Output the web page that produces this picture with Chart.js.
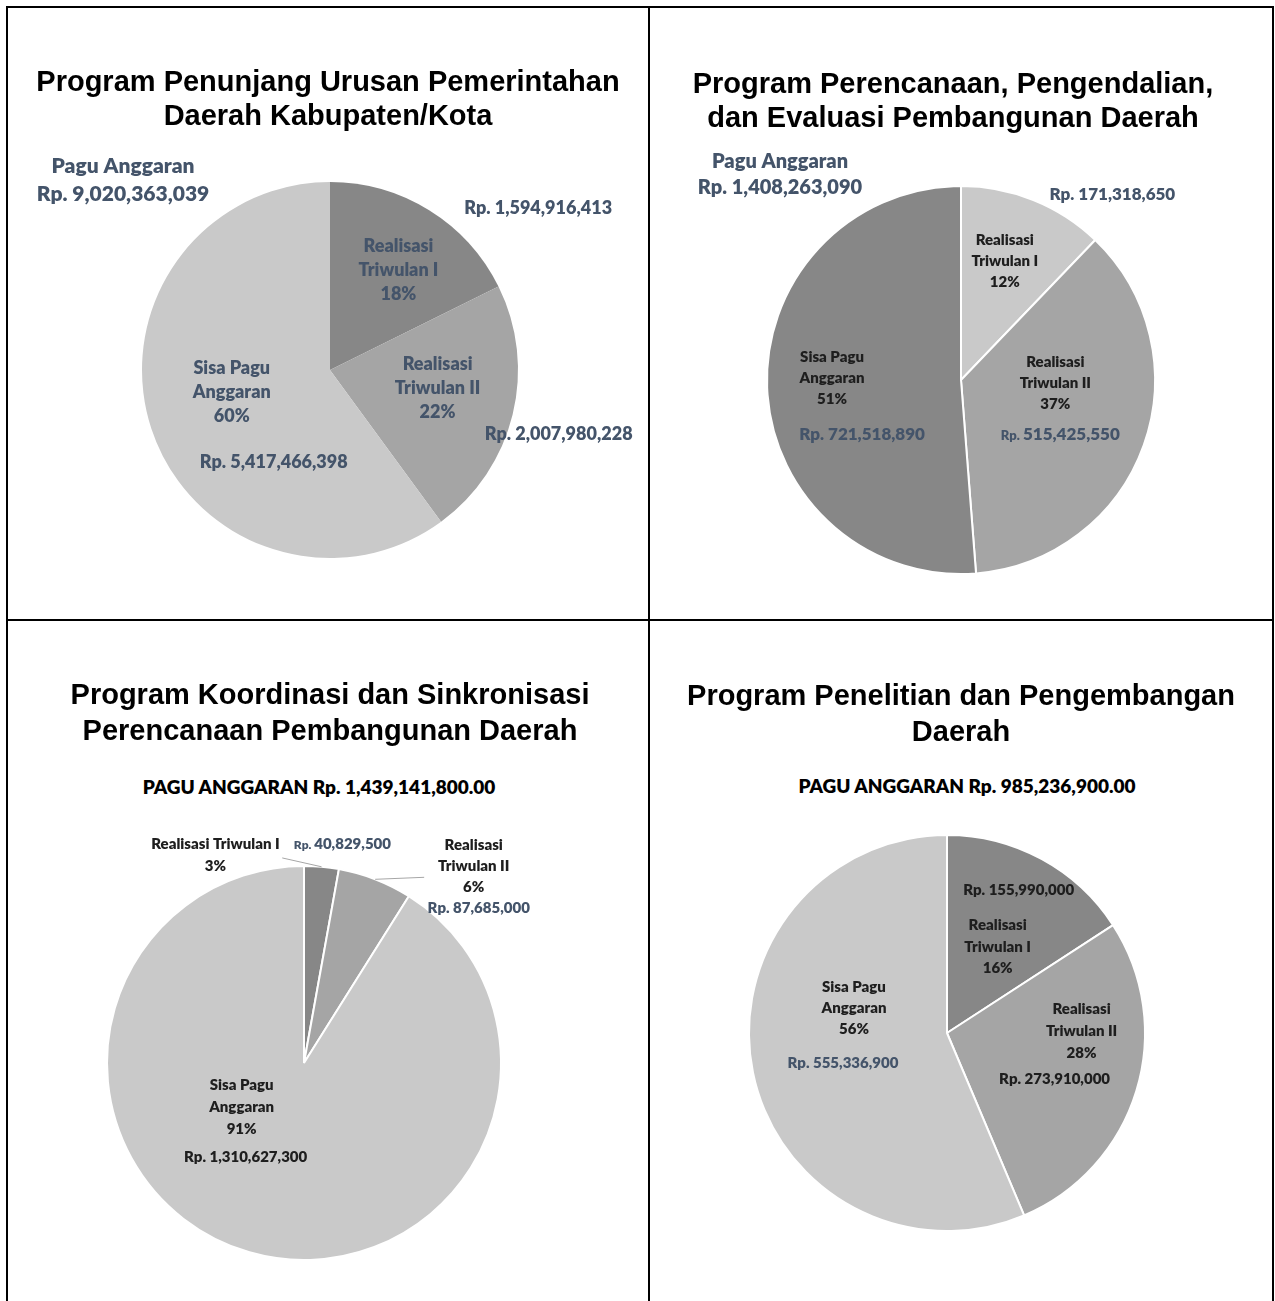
<!DOCTYPE html>
<html lang="id">
<head>
<meta charset="utf-8">
<title>Realisasi Anggaran per Program</title>
<script src="https://cdn.jsdelivr.net/npm/chart.js@4.4.1/dist/chart.umd.min.js"></script>
<style>
  body { margin: 0; background: #fff; width: 1275px; height: 1301px; position: relative; overflow: hidden; }
  .line { position: absolute; background: #000; }
  .pie-canvas { position: absolute; }
  .title { position: absolute; text-align: center; white-space: nowrap; color: #000;
           font: bold 29px/34px "Liberation Sans", Arial, sans-serif; }
  .subtitle { position: absolute; text-align: center; white-space: nowrap; color: #000;
              font: 800 19px/23px Lato, sans-serif; }
</style>
</head>
<body>
<div class="line" style="left:6px;top:6px;width:2px;height:1295px"></div>
<div class="line" style="left:648px;top:6px;width:2px;height:1295px"></div>
<div class="line" style="left:1272px;top:6px;width:2px;height:1295px"></div>
<div class="line" style="left:6px;top:6px;width:1268px;height:2px"></div>
<div class="line" style="left:6px;top:619px;width:1268px;height:2px"></div>

<script>
// ---- data ----
const categories = ["Realisasi Triwulan I", "Realisasi Triwulan II", "Sisa Pagu Anggaran"];
const categoryLines = [["Realisasi", "Triwulan I"], ["Realisasi", "Triwulan II"], ["Sisa Pagu", "Anggaran"]];

const penunjangValues = [1594916413, 2007980228, 5417466398];
const perencanaanValues = [171318650, 515425550, 721518890];
const koordinasiValues = [40829500, 87685000, 1310627300];
const penelitianValues = [155990000, 273910000, 555336900];

const penunjangTitle = ["Program Penunjang Urusan Pemerintahan", "Daerah Kabupaten/Kota"];
const perencanaanTitle = ["Program Perencanaan, Pengendalian,", "dan Evaluasi Pembangunan Daerah"];
const koordinasiTitle = ["Program Koordinasi dan Sinkronisasi", "Perencanaan Pembangunan Daerah"];
const penelitianTitle = ["Program Penelitian dan Pengembangan", "Daerah"];

// ---- styles ----
const DARK = "#878787";
const MID = "#a5a5a5";
const LIGHT = "#c9c9c9";
const SLATE = "#44546a";
const INK = "#1e1e1e";
const LABEL_FONT = "Lato, sans-serif";
const LABEL_WEIGHT = 800;

const sum = (arr) => arr.reduce((a, b) => a + b, 0);
const rupiah = (v) => v.toLocaleString("en-US");

// label anchors: slice mid-angle at k * radius, nudged by dx/dy
const panels = [
  {
    values: penunjangValues, title: penunjangTitle,
    box: { left: 8, top: 8, width: 640, height: 611 },
    titleBox: { left: 8, width: 640, top: 64 },
    pie: { cx: 322, cy: 362, r: 188 },
    colors: [DARK, MID, LIGHT], border: 0,
    labels: [
      { kind: "total", dx: -207, dy: -191, size: 21, lh: 28, color: SLATE },
      { kind: "category", slice: 0, k: 0.65, dx: 4, dy: 3, size: 18, lh: 24, color: SLATE },
      { kind: "value", slice: 0, k: 1, dx: 109, dy: -3, size: 18, color: SLATE },
      { kind: "category", slice: 1, k: 0.6, dx: -2, dy: -9, size: 18, lh: 24, color: SLATE },
      { kind: "value", slice: 1, k: 1, dx: 46, dy: 19, size: 18, color: SLATE },
      { kind: "category", slice: 2, k: 0.55, dx: 0, dy: -11, size: 18, lh: 24, color: SLATE },
      { kind: "value", slice: 2, k: 0.55, dx: 42, dy: 59, size: 18, color: SLATE },
    ],
  },
  {
    values: perencanaanValues, title: perencanaanTitle,
    box: { left: 650, top: 8, width: 622, height: 611 },
    titleBox: { left: 650, width: 606, top: 66 },
    pie: { cx: 311, cy: 372, r: 194 },
    colors: [LIGHT, MID, DARK], border: 2,
    labels: [
      { kind: "total", dx: -181, dy: -206, size: 20, lh: 26, color: SLATE },
      { kind: "category", slice: 0, k: 0.66, dx: -4, dy: -1, size: 15, lh: 21, color: INK },
      { kind: "value", slice: 0, k: 1, dx: 79, dy: -6, size: 17, color: SLATE },
      { kind: "category", slice: 1, k: 0.5, dx: 3, dy: -30, size: 15, lh: 21, color: INK },
      { kind: "value", slice: 1, k: 0.5, dx: 8, dy: 21, size: 17, rpSize: 13, color: SLATE },
      { kind: "category", slice: 2, k: 0.66, dx: -1, dy: -7, size: 15, lh: 21, color: INK },
      { kind: "value", slice: 2, k: 0.66, dx: 29, dy: 49, size: 17, color: SLATE },
    ],
  },
  {
    values: koordinasiValues, title: koordinasiTitle, subtitle: true,
    box: { left: 8, top: 621, width: 640, height: 680 },
    titleBox: { left: 8, width: 644, top: 676, lh: 36 },
    subBox: { left: 8, width: 622, top: 775 },
    pie: { cx: 296, cy: 442, r: 197 },
    colors: [DARK, MID, LIGHT], border: 2,
    labels: [
      { kind: "leader", slice: 0, k: 1.04, dx: -40, dy: -1 },
      { kind: "leader", slice: 1, k: 1, dx: 49, dy: -2 },
      { kind: "category", slice: 0, k: 1.05, dx: -107, dy: -2, size: 15, lh: 22, color: INK, oneLine: true },
      { kind: "value", slice: 0, k: 1.05, dx: 20, dy: -13, size: 15, rpSize: 12, color: SLATE },
      { kind: "category", slice: 1, k: 1.05, dx: 95, dy: -5, size: 15, lh: 21, color: INK },
      { kind: "value", slice: 1, k: 1.05, dx: 100, dy: 37, size: 15, color: SLATE },
      { kind: "category", slice: 2, k: 0.3, dx: -46, dy: -13, size: 15, lh: 22, color: INK },
      { kind: "value", slice: 2, k: 0.3, dx: -42, dy: 37, size: 15, color: INK },
    ],
  },
  {
    values: penelitianValues, title: penelitianTitle, subtitle: true,
    box: { left: 650, top: 621, width: 622, height: 680 },
    titleBox: { left: 650, width: 622, top: 677, lh: 36 },
    subBox: { left: 650, width: 634, top: 774 },
    pie: { cx: 297, cy: 412, r: 198 },
    colors: [DARK, MID, LIGHT], border: 2,
    labels: [
      { kind: "value", slice: 0, k: 0.6, dx: 15, dy: -39, size: 15, color: INK },
      { kind: "category", slice: 0, k: 0.6, dx: -6, dy: 18, size: 15, lh: 21.5, color: INK },
      { kind: "category", slice: 1, k: 0.6, dx: 21, dy: -37, size: 15, lh: 22, color: INK },
      { kind: "value", slice: 1, k: 0.6, dx: -6, dy: 11, size: 15, color: INK },
      { kind: "category", slice: 2, k: 0.5, dx: 4, dy: -45, size: 15, lh: 21, color: INK },
      { kind: "value", slice: 2, k: 0.5, dx: -7, dy: 10, size: 15, color: SLATE },
    ],
  },
];

// draws one line made of segments with their own sizes, centred on x
function drawSegments(ctx, segments, x, yMid, color) {
  let width = 0;
  let maxSize = 0;
  segments.forEach((s) => {
    ctx.font = `${LABEL_WEIGHT} ${s.size}px ${LABEL_FONT}`;
    s.w = ctx.measureText(s.text).width;
    width += s.w;
    maxSize = Math.max(maxSize, s.size);
  });
  const baseline = yMid + 0.36 * maxSize;
  let cx = x - width / 2;
  ctx.fillStyle = color;
  ctx.textAlign = "left";
  ctx.textBaseline = "alphabetic";
  segments.forEach((s) => {
    ctx.font = `${LABEL_WEIGHT} ${s.size}px ${LABEL_FONT}`;
    ctx.fillText(s.text, cx, baseline);
    cx += s.w;
  });
}

const sliceLabels = {
  id: "sliceLabels",
  afterDatasetsDraw(chart, args, opts) {
    const ctx = chart.ctx;
    const meta = chart.getDatasetMeta(0);
    const values = chart.data.datasets[0].data;
    const total = sum(values);
    const first = meta.data[0].getProps(["x", "y", "outerRadius"], true);
    const { x: cx, y: cy, outerRadius: r } = first;

    const polar = (slice, k) => {
      const arc = meta.data[slice].getProps(["startAngle", "endAngle"], true);
      const mid = (arc.startAngle + arc.endAngle) / 2;
      return { x: cx + Math.cos(mid) * r * k, y: cy + Math.sin(mid) * r * k };
    };

    ctx.save();
    opts.items.forEach((item) => {
      if (item.kind === "leader") {
        const from = polar(item.slice, 1);
        const to = polar(item.slice, item.k);
        ctx.strokeStyle = "#a6a6a6";
        ctx.lineWidth = 1;
        ctx.beginPath();
        ctx.moveTo(from.x, from.y);
        ctx.lineTo(to.x + item.dx, to.y + item.dy);
        ctx.stroke();
        return;
      }

      let lines;
      let x;
      let y;
      if (item.kind === "total") {
        lines = ["Pagu Anggaran", "Rp. " + rupiah(total)];
        x = cx + item.dx;
        y = cy + item.dy;
      } else {
        const p = polar(item.slice, item.k);
        x = p.x + item.dx;
        y = p.y + item.dy;
        const v = values[item.slice];
        if (item.kind === "category") {
          const pct = Math.round((v / total) * 100) + "%";
          const name = categoryLines[item.slice];
          lines = item.oneLine ? [name.join(" "), pct] : [...name, pct];
        } else {
          lines = ["Rp. " + rupiah(v)];
        }
      }

      const lh = item.lh || item.size * 1.2;
      const top = y - ((lines.length - 1) * lh) / 2;
      lines.forEach((text, i) => {
        let segments = [{ text, size: item.size }];
        if (item.rpSize && text.startsWith("Rp. ")) {
          segments = [{ text: "Rp. ", size: item.rpSize }, { text: text.slice(4), size: item.size }];
        }
        drawSegments(ctx, segments, x, top + i * lh, item.color);
      });
    });
    ctx.restore();
  },
};

function renderPanel(p) {
  const title = document.createElement("div");
  title.className = "title";
  title.style.left = p.titleBox.left + "px";
  title.style.width = p.titleBox.width + "px";
  title.style.top = p.titleBox.top + "px";
  if (p.titleBox.lh) title.style.lineHeight = p.titleBox.lh + "px";
  title.innerHTML = p.title.join("<br>");

  if (p.subtitle) {
    const sub = document.createElement("div");
    sub.className = "subtitle";
    sub.style.left = p.subBox.left + "px";
    sub.style.width = p.subBox.width + "px";
    sub.style.top = p.subBox.top + "px";
    sub.textContent = "PAGU ANGGARAN Rp. " +
      sum(p.values).toLocaleString("en-US", { minimumFractionDigits: 2, maximumFractionDigits: 2 });
    document.body.appendChild(sub);
  }

  const canvas = document.createElement("canvas");
  canvas.className = "pie-canvas";
  canvas.width = p.box.width;
  canvas.height = p.box.height;
  canvas.style.left = p.box.left + "px";
  canvas.style.top = p.box.top + "px";
  document.body.appendChild(canvas);
  document.body.appendChild(title);

  const { cx, cy, r } = p.pie;
  new Chart(canvas, {
    type: "pie",
    data: {
      labels: categories,
      datasets: [
        {
          data: p.values,
          backgroundColor: p.colors,
          borderColor: "#ffffff",
          borderWidth: p.border,
          radius: r,
        },
      ],
    },
    options: {
      responsive: false,
      animation: false,
      devicePixelRatio: 1,
      layout: {
        padding: {
          left: cx - r,
          right: p.box.width - cx - r,
          top: cy - r,
          bottom: p.box.height - cy - r,
        },
      },
      plugins: {
        legend: { display: false },
        tooltip: { enabled: false },
        sliceLabels: { items: p.labels },
      },
    },
    plugins: [sliceLabels],
  });
}

Promise.all([
  document.fonts.load(`${LABEL_WEIGHT} 18px ${LABEL_FONT}`),
  document.fonts.load('bold 29px "Liberation Sans"'),
]).finally(() => panels.forEach(renderPanel));
</script>
</body>
</html>
